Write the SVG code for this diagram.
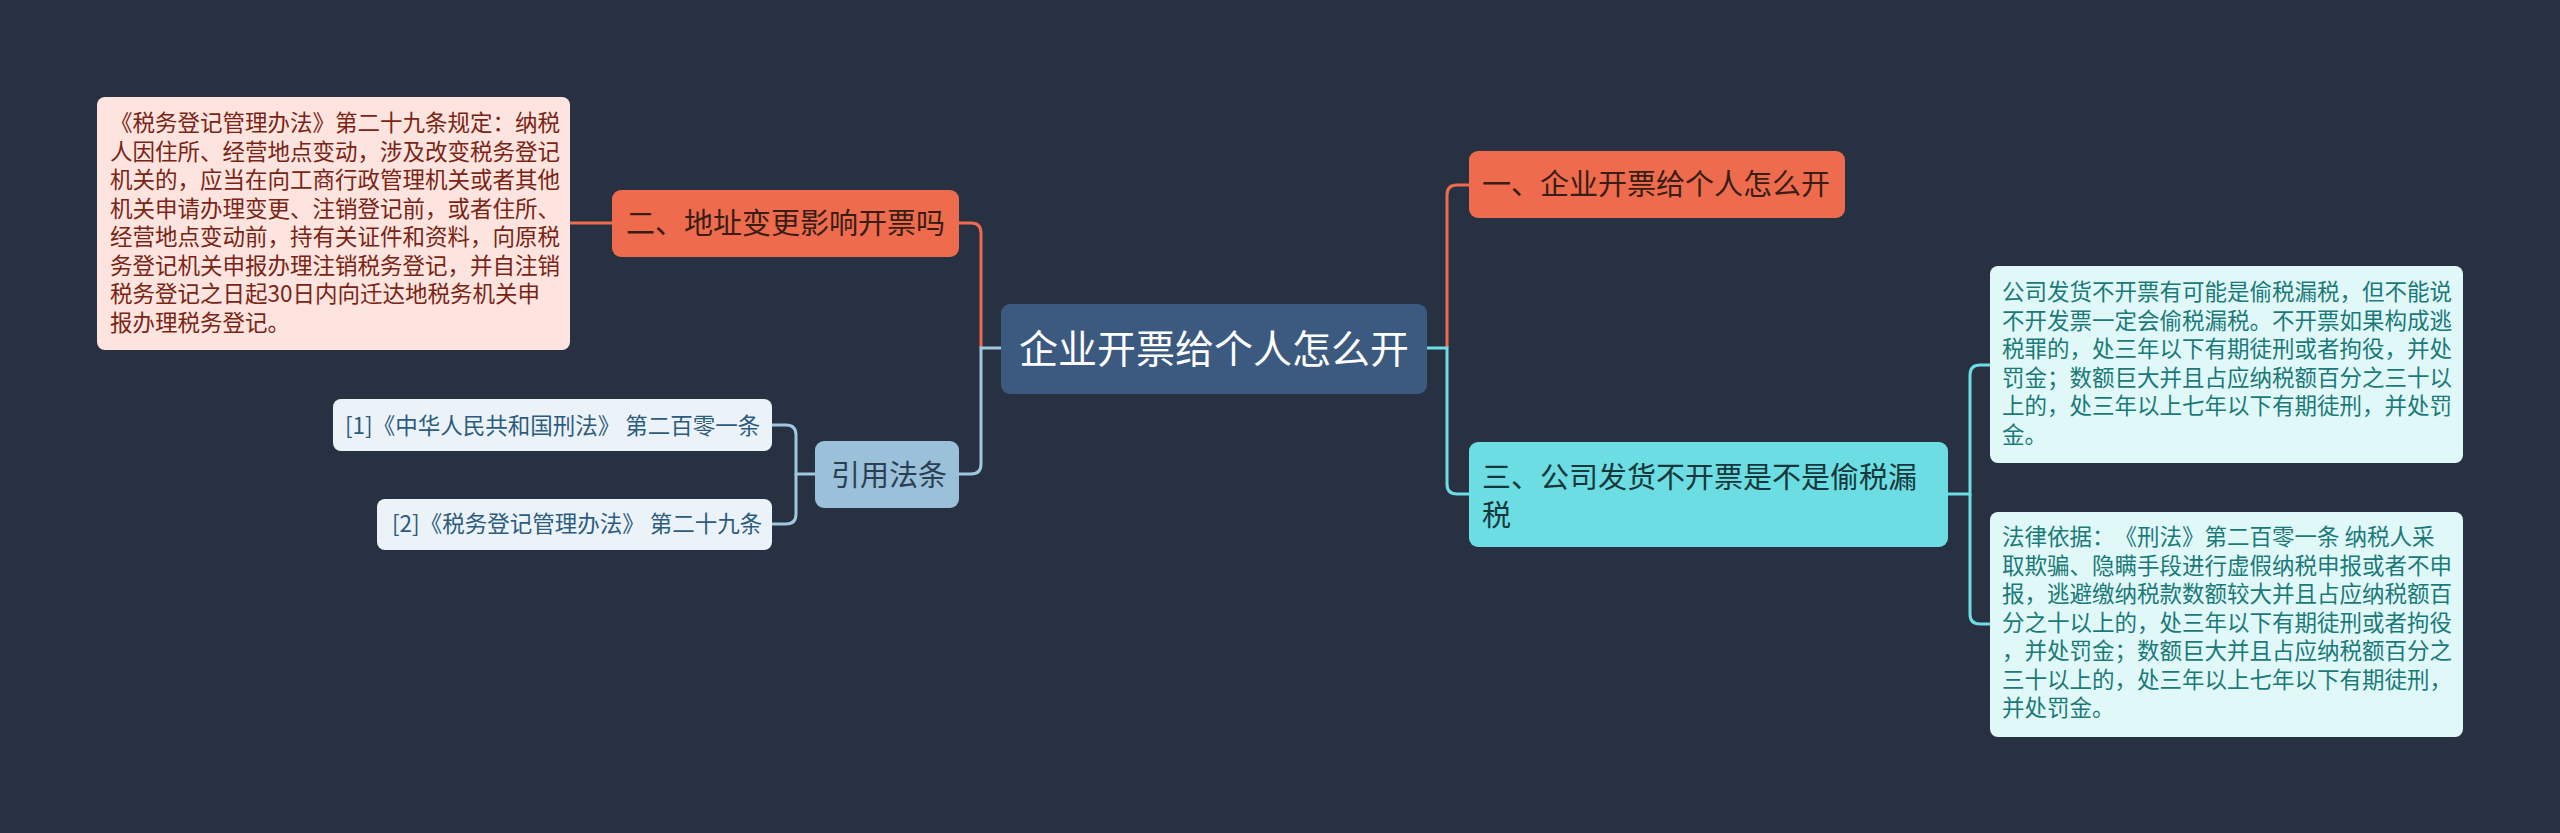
<svg xmlns="http://www.w3.org/2000/svg" width="2560" height="833" viewBox="0 0 2560 833">
<style>
text{font-family:"Noto Sans CJK SC","Microsoft YaHei",sans-serif;text-spacing-trim:space-all;}
.lk{fill:none;stroke-width:3;}
.or{stroke:#ee6c4d;}
.lb{stroke:#9fc8e0;}
.cy{stroke:#6cdde4;}
.big{font-size:29px;}
.sm{font-size:22.5px;}
</style>
<rect x="0" y="0" width="2560" height="833" fill="#283142"/>
<g id="connectors">
<path class="lk or" d="M612,223 H570"/>
<path class="lk or" d="M981,348 V233 Q981,223 971,223 H959"/>
<path class="lk lb" d="M1001,348 H981 V464 Q981,474 971,474 H959"/>
<path class="lk lb" d="M815,474 H796 V435 Q796,425 786,425 H772"/>
<path class="lk lb" d="M796,474 V514 Q796,524 786,524 H772"/>
<path class="lk or" d="M1447,348 V195 Q1447,185 1457,185 H1469"/>
<path class="lk cy" d="M1427,348 H1447 V484 Q1447,494 1457,494 H1469"/>
<path class="lk cy" d="M1948,494 H1970 V375 Q1970,365 1980,365 H1990"/>
<path class="lk cy" d="M1970,494 V614 Q1970,624 1980,624 H1990"/>
</g>
<g id="root">
<rect x="1001" y="304" width="426" height="90" rx="9" fill="#3c5a80"/>
<text x="1214" y="363" font-size="39" fill="#ffffff" text-anchor="middle">企业开票给个人怎么开</text>
</g>
<g id="n2">
<rect x="612" y="190" width="347" height="67" rx="9" fill="#ee6c4d"/>
<text class="big" x="626" y="234" fill="#3a1d15">二、地址变更影响开票吗</text>
</g>
<g id="n2note">
<rect x="97" y="97" width="473" height="253" rx="8" fill="#fde4de"/>
<g class="sm" fill="#7a2416">
<text x="110" y="131">《税务登记管理办法》第二十九条规定：纳税</text>
<text x="110" y="159.5">人因住所、经营地点变动，涉及改变税务登记</text>
<text x="110" y="188">机关的，应当在向工商行政管理机关或者其他</text>
<text x="110" y="216.5">机关申请办理变更、注销登记前，或者住所、</text>
<text x="110" y="245">经营地点变动前，持有关证件和资料，向原税</text>
<text x="110" y="273.5">务登记机关申报办理注销税务登记，并自注销</text>
<text x="110" y="302">税务登记之日起30日内向迁达地税务机关申</text>
<text x="110" y="330.5">报办理税务登记。</text>
</g>
</g>
<g id="refs">
<rect x="815" y="441" width="144" height="67" rx="9" fill="#9ac0da"/>
<text class="big" x="831" y="486" fill="#2b3f52">引用法条</text>
</g>
<g id="ref1">
<rect x="333" y="399" width="439" height="52" rx="8" fill="#ebf3f8"/>
<text class="sm" x="345" y="434" fill="#2d5c7f">[1]《中华人民共和国刑法》 第二百零一条</text>
</g>
<g id="ref2">
<rect x="377" y="499" width="395" height="51" rx="8" fill="#ebf3f8"/>
<text class="sm" x="392" y="532" fill="#2d5c7f">[2]《税务登记管理办法》 第二十九条</text>
</g>
<g id="n1">
<rect x="1469" y="151" width="376" height="67" rx="9" fill="#ee6c4d"/>
<text class="big" x="1482" y="195" fill="#3a1d15">一、企业开票给个人怎么开</text>
</g>
<g id="n3">
<rect x="1469" y="442" width="479" height="105" rx="9" fill="#6cdde2"/>
<text class="big" x="1482" y="488" fill="#17383b">三、公司发货不开票是不是偷税漏</text>
<text class="big" x="1482" y="526" fill="#17383b">税</text>
</g>
<g id="n3note1">
<rect x="1990" y="266" width="473" height="197" rx="8" fill="#e1f8f9"/>
<g class="sm" fill="#1b7a78">
<text x="2002" y="300">公司发货不开票有可能是偷税漏税，但不能说</text>
<text x="2002" y="328.5">不开发票一定会偷税漏税。不开票如果构成逃</text>
<text x="2002" y="357">税罪的，处三年以下有期徒刑或者拘役，并处</text>
<text x="2002" y="385.5">罚金；数额巨大并且占应纳税额百分之三十以</text>
<text x="2002" y="414">上的，处三年以上七年以下有期徒刑，并处罚</text>
<text x="2002" y="442.5">金。</text>
</g>
</g>
<g id="n3note2">
<rect x="1990" y="512" width="473" height="225" rx="8" fill="#e1f8f9"/>
<g class="sm" fill="#1b7a78">
<text x="2002" y="545">法律依据：《刑法》第二百零一条 纳税人采</text>
<text x="2002" y="573.5">取欺骗、隐瞒手段进行虚假纳税申报或者不申</text>
<text x="2002" y="602">报，逃避缴纳税款数额较大并且占应纳税额百</text>
<text x="2002" y="630.5">分之十以上的，处三年以下有期徒刑或者拘役</text>
<text x="2002" y="659">，并处罚金；数额巨大并且占应纳税额百分之</text>
<text x="2002" y="687.5">三十以上的，处三年以上七年以下有期徒刑，</text>
<text x="2002" y="716">并处罚金。</text>
</g>
</g>
</svg>
